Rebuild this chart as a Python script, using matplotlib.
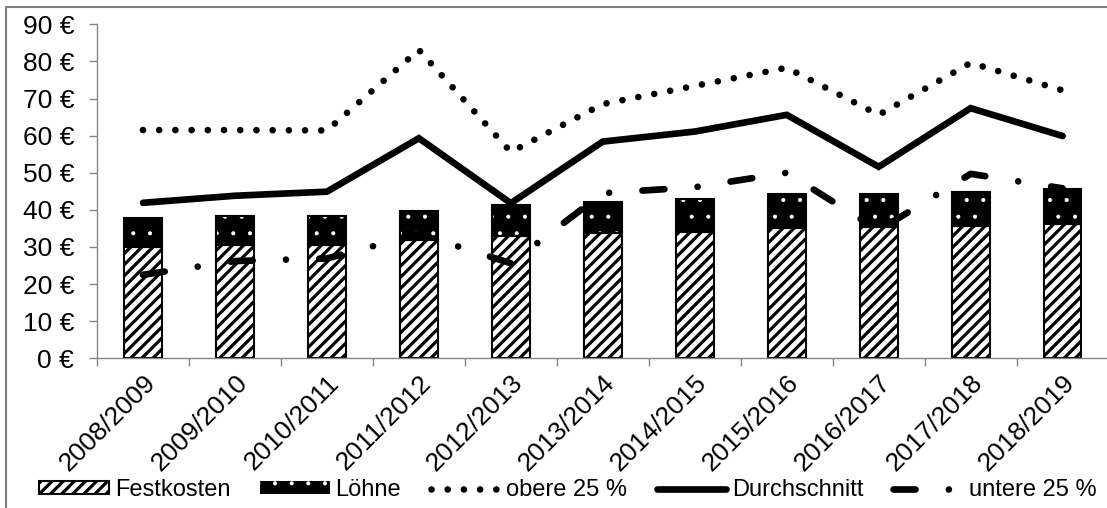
import numpy as np
import matplotlib
matplotlib.use("Agg")
import matplotlib.pyplot as plt
import matplotlib.transforms as mtransforms
from matplotlib.patches import Rectangle, Patch
from matplotlib.lines import Line2D

# Kostenentwicklung je Wirtschaftsjahr
jahre = ["2008/2009", "2009/2010", "2010/2011", "2011/2012", "2012/2013",
         "2013/2014", "2014/2015", "2015/2016", "2016/2017", "2017/2018",
         "2018/2019"]
festkosten = [30.1, 30.4, 30.5, 32.0, 33.0, 33.7, 34.1, 35.2, 35.5, 35.7, 36.1]
loehne = [7.6, 8.0, 7.9, 7.8, 8.2, 8.3, 8.8, 9.1, 8.9, 9.2, 9.5]
obere_25 = [61.5, 61.5, 61.4, 83.1, 55.6, 68.5, 73.4, 78.3, 65.6, 79.6, 72.2]
durchschnitt = [41.9, 43.8, 44.9, 59.3, 41.8, 58.4, 61.1, 65.6, 51.6, 67.4, 59.9]
untere_25 = [22.5, 26.2, 26.9, 33.5, 25.6, 44.5, 46.1, 50.0, 34.5, 49.7, 45.8]
y_ticks = [0, 10, 20, 30, 40, 50, 60, 70, 80, 90]

plt.rcParams["font.family"] = ["Liberation Sans", "DejaVu Sans"]
plt.rcParams["font.size"] = 17
plt.rcParams["hatch.linewidth"] = 2.3


def thin_hatch(artist, lw):
    """Draw an artist's hatch with its own line width."""
    orig_draw = artist.draw

    def draw(renderer):
        with plt.rc_context({"hatch.linewidth": lw}):
            orig_draw(renderer)

    artist.draw = draw
    if hasattr(artist, "set_hatch_linewidth"):
        artist.set_hatch_linewidth(lw)


W, H = 1107, 508
fig = plt.figure(figsize=(W / 100, H / 100), dpi=100)
ax = fig.add_axes([97 / W, (H - 358.3) / H, (1108.6 - 97) / W, (358.3 - 24.3) / H])

x = np.arange(len(jahre))
bw = 0.41
axis_grey = "#868686"
dot_lw = 0.5

ax.bar(x, festkosten, bw, facecolor="white", edgecolor="black",
       hatch="///", linewidth=1.5, zorder=2)
with plt.rc_context({"hatch.linewidth": dot_lw}):
    bars_l = ax.bar(x, loehne, bw, bottom=festkosten, facecolor="black",
                    edgecolor="white", hatch=".", linewidth=0, zorder=2)
for p in bars_l:
    thin_hatch(p, dot_lw)
ax.bar(x, loehne, bw, bottom=festkosten, fill=False, edgecolor="black",
       linewidth=1.5, zorder=2.1)

lw = 4.8
dotted = (0, (0.001, 2.43))
dash_dot = (0, (3.3, 5.0, 0.001, 5.0))
ax.plot(x, obere_25, color="black", lw=lw, linestyle=dotted,
        dash_capstyle="round", zorder=3)
ax.plot(x, durchschnitt, color="black", lw=lw, solid_capstyle="round",
        solid_joinstyle="miter", zorder=3)
ax.plot(x, untere_25, color="black", lw=lw, linestyle=dash_dot,
        dash_capstyle="round", zorder=3)

ax.set_xlim(-0.5, len(jahre) - 0.5)
ax.set_ylim(0, 90)
ax.set_yticks(y_ticks)
ax.set_yticklabels([f"{v} €" for v in y_ticks], fontsize=19)
ax.set_xticks(x)
ax.set_xticklabels(jahre, rotation=45, ha="right", va="top",
                   rotation_mode="anchor", fontsize=19)
shift = mtransforms.ScaledTranslation(6 / 100, 0, fig.dpi_scale_trans)
for lbl in ax.get_xticklabels():
    lbl.set_transform(lbl.get_transform() + shift)
ax.set_xticks(np.arange(len(jahre) + 1) - 0.5, minor=True)
ax.tick_params(axis="x", which="major", length=0, pad=9)
ax.tick_params(axis="x", which="minor", length=5.5, width=1, color=axis_grey,
               direction="out")
ax.tick_params(axis="y", length=5.5, width=1, color=axis_grey, pad=11)

for s in ("top", "right"):
    ax.spines[s].set_visible(False)
for s in ("left", "bottom"):
    ax.spines[s].set_color(axis_grey)
    ax.spines[s].set_linewidth(1)

handles = [
    Patch(facecolor="white", edgecolor="black", hatch="///", linewidth=1.5),
    Patch(facecolor="black", edgecolor="white", hatch=".", linewidth=0),
    Line2D([], [], color="black", lw=lw, linestyle=dotted,
           dash_capstyle="round"),
    Line2D([], [], color="black", lw=lw, solid_capstyle="round"),
    Line2D([], [], color="black", lw=lw, linestyle=dash_dot,
           dash_capstyle="round"),
]
labels = ["Festkosten", "Löhne", "obere 25 %", "Durchschnitt", "untere 25 %"]
leg = fig.legend(handles, labels, loc="center", ncol=5, frameon=False,
                 bbox_to_anchor=(568 / W, (H - 490) / H), handlelength=2.95,
                 handleheight=0.42, handletextpad=0.25, columnspacing=1.25,
                 borderpad=0, borderaxespad=0)
thin_hatch(leg.get_patches()[1], dot_lw)

# Rahmen um die Grafik
fig.add_artist(Rectangle((6 / W, -0.1), 1.2, (H - 7.5) / H + 0.1,
                         transform=fig.transFigure, fill=False,
                         edgecolor="#7f7f7f", linewidth=1.5))

fig.savefig("out.png", dpi=100)
